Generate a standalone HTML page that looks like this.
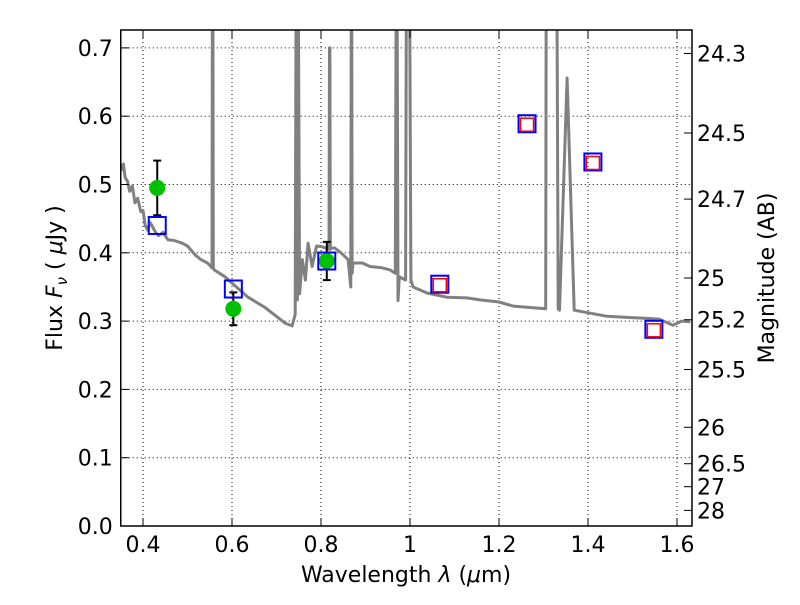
<!DOCTYPE html>
<html><head><meta charset="utf-8"><style>
body{margin:0;background:#fff}
svg text{font-family:"DejaVu Sans","Liberation Sans",sans-serif;fill:#000}
</style></head><body>
<svg id="chart" width="800" height="600">
<rect width="800" height="600" fill="#fff"/>
<g id="grid"></g>
<g id="plot"></g>
<g id="axes"></g>
<text x="406" y="582" font-size="22" text-anchor="middle">Wavelength  <tspan font-style="italic">λ</tspan> (<tspan font-style="italic">μ</tspan>m)</text>
<text transform="translate(62,278) rotate(-90)" font-size="22" text-anchor="middle">Flux  <tspan font-style="italic">F<tspan font-size="15" dy="5">ν</tspan></tspan><tspan dy="-5">  ( </tspan><tspan font-style="italic">μ</tspan>Jy )</text>
<text transform="translate(774,278) rotate(-90)" font-size="22" text-anchor="middle">Magnitude (AB)</text>
</svg>
<script>
const xTicks=[0.4,0.6,0.8,1.0,1.2,1.4,1.6];
const xTickLabels=["0.4","0.6","0.8","1","1.2","1.4","1.6"];
const yTicks=[0,0.1,0.2,0.3,0.4,0.5,0.6,0.7];
const yTickLabels=["0.0","0.1","0.2","0.3","0.4","0.5","0.6","0.7"];
const magTicks=[24.3,24.5,24.7,25,25.2,25.5,26,26.5,27,28];
const specLam=[0.352,0.356,0.36,0.365,0.37,0.376,0.382,0.388,0.395,0.40,0.405,0.411,0.415,0.42,0.428,0.435,0.445,0.456,0.47,0.488,0.5,0.517,0.53,0.545,0.555,0.556,0.557,0.558,0.56,0.584,0.61,0.636,0.674,0.719,0.735,0.742,0.744,0.745,0.747,0.749,0.752,0.758,0.765,0.771,0.78,0.79,0.802,0.818,0.819,0.82,0.821,0.822,0.831,0.845,0.861,0.867,0.868,0.869,0.87,0.872,0.893,0.91,0.937,0.955,0.967,0.969,0.971,0.973,0.976,0.99,0.992,0.996,0.999,1.002,1.007,1.039,1.083,1.128,1.157,1.2,1.232,1.305,1.306,1.33,1.333,1.336,1.353,1.369,1.443,1.532,1.56,1.591,1.61,1.63];
const specFlux=[0.52,0.53,0.51,0.505,0.49,0.498,0.473,0.48,0.46,0.462,0.44,0.433,0.445,0.44,0.43,0.425,0.43,0.419,0.418,0.414,0.41,0.397,0.39,0.385,0.378,0.8,0.8,0.378,0.375,0.365,0.35,0.335,0.32,0.297,0.293,0.31,0.8,0.8,0.331,0.8,0.34,0.39,0.36,0.414,0.38,0.41,0.409,0.405,0.7,0.7,0.405,0.407,0.407,0.4,0.39,0.35,0.8,0.8,0.37,0.385,0.385,0.38,0.378,0.375,0.37,0.8,0.8,0.33,0.365,0.36,0.8,0.8,0.8,0.36,0.35,0.341,0.335,0.334,0.331,0.328,0.322,0.318,0.8,0.8,0.318,0.316,0.656,0.316,0.307,0.304,0.303,0.294,0.3,0.299];
const obsLam=[0.432,0.603,0.813];
const obsFlux=[0.495,0.318,0.388];
const obsErr=[0.04,0.024,0.028];
const modLam=[0.432,0.603,0.813,1.067,1.263,1.411,1.548];
const modFlux=[0.44,0.347,0.388,0.354,0.589,0.533,0.288];
const redLam=[1.067,1.263,1.411,1.548];
const redFlux=[0.354,0.589,0.533,0.288];

const L=120.75,R=692,T=30,B=526;
const X=v=>L+(v-0.35)*445;
const Y=v=>B-v*683;
const NS="http://www.w3.org/2000/svg";
function mk(p,tag,at){const e=document.createElementNS(NS,tag);for(const k in at)e.setAttribute(k,at[k]);p.appendChild(e);return e;}
const grid=document.getElementById('grid'),plot=document.getElementById('plot'),axes=document.getElementById('axes');
xTicks.forEach((t,i)=>{
 const l=mk(grid,'line',{x1:X(t),x2:X(t),y1:T,y2:B,stroke:'#000','stroke-width':1,'stroke-dasharray':'1,3'});
 
 
 mk(axes,'line',{x1:X(t),x2:X(t),y1:B,y2:B-8,stroke:'#000'});
 mk(axes,'line',{x1:X(t),x2:X(t),y1:T,y2:T+8,stroke:'#000'});
 const tx=mk(axes,'text',{x:X(t),y:B+26,'font-size':22,'text-anchor':'middle'});tx.textContent=xTickLabels[i];
 
 
});
yTicks.forEach((t,i)=>{
 const l=mk(grid,'line',{x1:L,x2:R,y1:Y(t),y2:Y(t),stroke:'#000','stroke-width':1,'stroke-dasharray':'1,3'});
 
 
 mk(axes,'line',{x1:L,x2:L+8,y1:Y(t),y2:Y(t),stroke:'#000'});
 const tx=mk(axes,'text',{x:L-8,y:Y(t)+8,'font-size':22,'text-anchor':'end'});tx.textContent=yTickLabels[i];
 
 
});
magTicks.forEach(m=>{
 const f=Math.pow(10,(23.9-m)/2.5),y=Y(f);
 mk(axes,'line',{x1:R,x2:R-8,y1:y,y2:y,stroke:'#000'});
 const tx=mk(axes,'text',{x:R+5,y:y+8,'font-size':22});tx.textContent=String(m);
 
 
});
mk(plot,'clipPath',{id:'cp'}).appendChild(document.createElementNS(NS,'rect'));
const cr=plot.querySelector('#cp rect');cr.setAttribute('x',L);cr.setAttribute('y',T);cr.setAttribute('width',R-L);cr.setAttribute('height',B-T);
const pts=specLam.map((l,i)=>X(l).toFixed(1)+','+Y(specFlux[i]).toFixed(1)).join(' ');
const sp=mk(plot,'polyline',{points:pts,fill:'none',stroke:'#808080','stroke-width':3,'clip-path':'url(#cp)','stroke-linejoin':'round'});


obsLam.forEach((l,i)=>{
 const x=X(l);
 const g=mk(plot,'g',{});
 
 
 mk(g,'line',{x1:x,x2:x,y1:Y(obsFlux[i]+obsErr[i]),y2:Y(obsFlux[i]-obsErr[i]),stroke:'#000','stroke-width':2});
 [obsFlux[i]+obsErr[i],obsFlux[i]-obsErr[i]].forEach(v=>mk(g,'line',{x1:x-4,x2:x+4,y1:Y(v),y2:Y(v),stroke:'#000','stroke-width':2}));
 mk(g,'circle',{cx:x,cy:Y(obsFlux[i]),r:8,fill:'#00c000'});
});
modLam.forEach((l,i)=>{
 const r=mk(plot,'rect',{x:X(l)-8.5,y:Y(modFlux[i])-8.5,width:17,height:17,fill:'none',stroke:'#0000ff','stroke-width':2});
 
 
});
redLam.forEach((l,i)=>{
 const r=mk(plot,'rect',{x:X(l)-6.5,y:Y(redFlux[i])-5.5,width:13,height:13,fill:'none',stroke:'#ff0000','stroke-width':1.5});
 
 
});
mk(axes,'rect',{x:L,y:T,width:R-L,height:B-T,fill:'none',stroke:'#000','stroke-width':1.5});
</script>
</body></html>
